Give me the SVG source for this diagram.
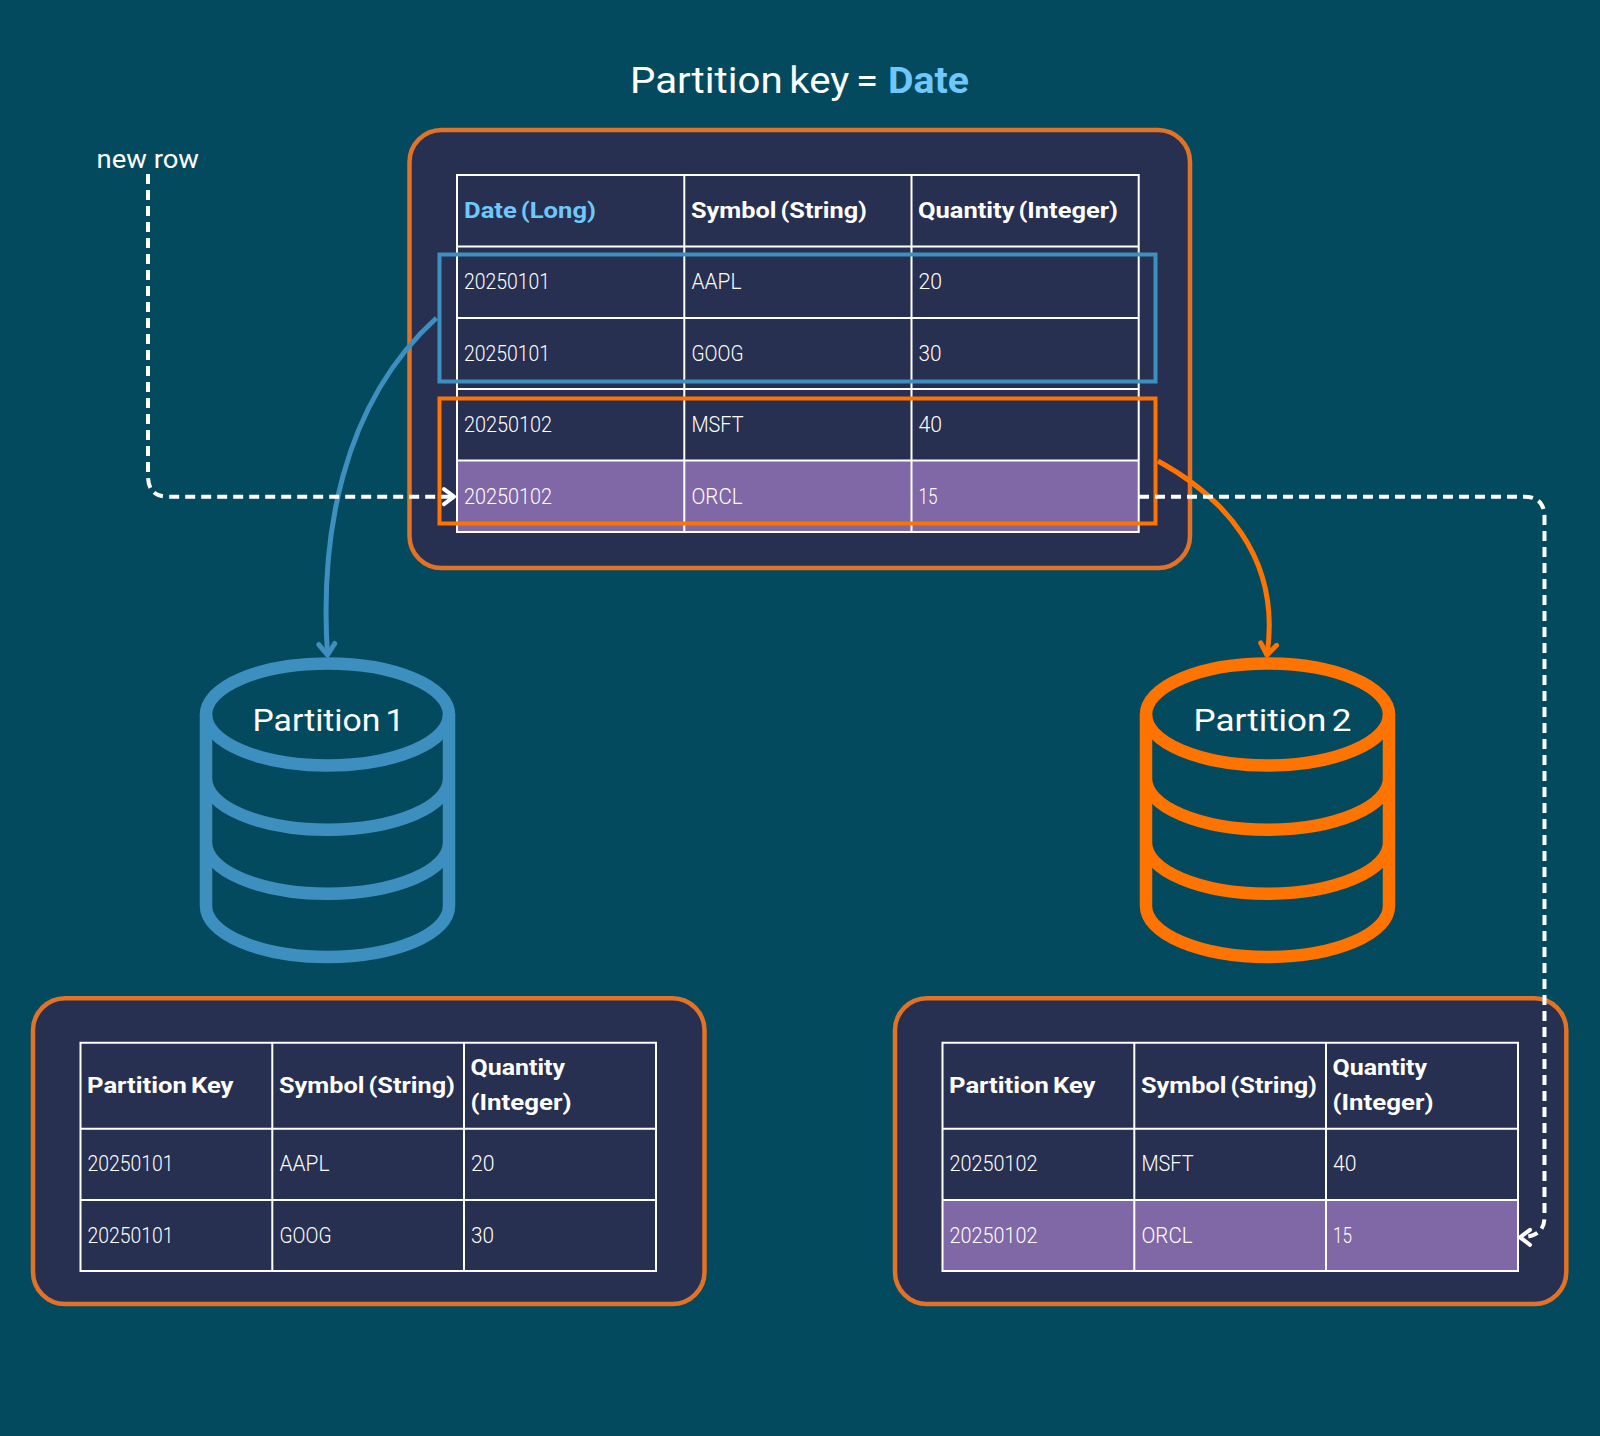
<svg xmlns="http://www.w3.org/2000/svg" width="1600" height="1436" viewBox="0 0 1600 1436">
<style>
text{font-family:"Roboto","Liberation Sans",sans-serif;fill:#fff}
.d{font-size:22px;font-weight:300}
.h{font-size:22px;font-weight:700;word-spacing:-2px}
.acc{fill:#6FC8FB}
.card{fill:#283052;stroke:#E27225;stroke-width:4.5}
.grid{fill:none;stroke:#fff;stroke-width:2}
.row{fill:#8067A5}
.sel{fill:none;stroke-width:4}
.cyl{fill:none;stroke-width:12.5}
.blue{stroke:#3D8FBF}
.orange{stroke:#FF7300}
.flow{fill:none;stroke-width:5}
.dash{fill:none;stroke:#fff;stroke-width:4;stroke-dasharray:10 6}
.label{font-size:32px;font-weight:400;word-spacing:-3px}
</style>
<defs>
<marker id="aw" markerUnits="userSpaceOnUse" markerWidth="30" markerHeight="30" refX="15" refY="15" orient="auto" overflow="visible"><path d="M5,7.5 L15,15 L5,22.5" fill="none" stroke="#fff" stroke-width="4" stroke-linecap="round" stroke-linejoin="round"/></marker>
<marker id="ab" markerUnits="userSpaceOnUse" markerWidth="30" markerHeight="30" refX="15" refY="15" orient="auto" overflow="visible"><path d="M4,7 L15,15 L4,23" fill="none" stroke="#3D8FBF" stroke-width="5" stroke-linecap="round" stroke-linejoin="round"/></marker>
<marker id="ao" markerUnits="userSpaceOnUse" markerWidth="30" markerHeight="30" refX="15" refY="15" orient="auto" overflow="visible"><path d="M4,7 L15,15 L4,23" fill="none" stroke="#FF7300" stroke-width="5" stroke-linecap="round" stroke-linejoin="round"/></marker>
</defs>
<rect width="1600" height="1436" fill="#034A5E"/>

<g id="title">
<text x="630" y="93" font-size="36" word-spacing="-3" textLength="248" lengthAdjust="spacingAndGlyphs">Partition key =</text>
<text class="acc" x="888" y="93" font-size="36" font-weight="700" textLength="81" lengthAdjust="spacingAndGlyphs">Date</text>
</g>
<g id="new-row"><text x="96.5" y="167.5" font-size="26" textLength="102.5" lengthAdjust="spacingAndGlyphs">new row</text></g>

<g id="source-table">
<rect class="card" x="409.5" y="130" width="780.5" height="438" rx="32"/>
<rect class="row" x="457" y="460.5" width="681.7" height="71.5"/>
<path class="grid" d="M457,175H1138.7V532H457ZM684.3,175V532M911.5,175V532M457,246.5H1138.7M457,318H1138.7M457,389H1138.7M457,460.5H1138.7"/>
<text class="h acc" x="464" y="217.5" textLength="132" lengthAdjust="spacingAndGlyphs">Date (Long)</text>
<text class="h" x="691" y="217.5" textLength="176" lengthAdjust="spacingAndGlyphs">Symbol (String)</text>
<text class="h" x="918" y="217.5" textLength="200" lengthAdjust="spacingAndGlyphs">Quantity (Integer)</text>
<text class="d" x="464" y="288.8" textLength="86" lengthAdjust="spacingAndGlyphs">20250101</text>
<text class="d" x="691.5" y="288.8" textLength="50" lengthAdjust="spacingAndGlyphs">AAPL</text>
<text class="d" x="918.5" y="288.8" textLength="23.5" lengthAdjust="spacingAndGlyphs">20</text>
<text class="d" x="464" y="361" textLength="86" lengthAdjust="spacingAndGlyphs">20250101</text>
<text class="d" x="691.5" y="361" textLength="52" lengthAdjust="spacingAndGlyphs">GOOG</text>
<text class="d" x="918.5" y="361" textLength="23" lengthAdjust="spacingAndGlyphs">30</text>
<text class="d" x="464" y="431.8" textLength="88" lengthAdjust="spacingAndGlyphs">20250102</text>
<text class="d" x="691.5" y="431.8" textLength="52" lengthAdjust="spacingAndGlyphs">MSFT</text>
<text class="d" x="918.5" y="431.8" textLength="23.5" lengthAdjust="spacingAndGlyphs">40</text>
<text class="d" x="464" y="504" textLength="88" lengthAdjust="spacingAndGlyphs">20250102</text>
<text class="d" x="691.5" y="504" textLength="51" lengthAdjust="spacingAndGlyphs">ORCL</text>
<text class="d" x="918.5" y="504" textLength="19" lengthAdjust="spacingAndGlyphs">15</text>
<rect class="sel blue" x="439.5" y="254.5" width="716" height="127"/>
<rect class="sel orange" x="439.5" y="398.5" width="716" height="125"/>
</g>

<g id="partition-1">
<path class="cyl blue" d="M206,714.5V906A121.5,51 0 0 0 449,906V714.5M206,842.7A121.5,51 0 0 0 449,842.7M206,778.7A121.5,51 0 0 0 449,778.7"/>
<ellipse class="cyl blue" cx="327.5" cy="714.5" rx="121.5" ry="51"/>
<text class="label" x="252.5" y="731" textLength="152" lengthAdjust="spacingAndGlyphs">Partition 1</text>
</g>
<g id="partition-2">
<path class="cyl orange" d="M1146,714.5V906A121.5,51 0 0 0 1389,906V714.5M1146,842.7A121.5,51 0 0 0 1389,842.7M1146,778.7A121.5,51 0 0 0 1389,778.7"/>
<ellipse class="cyl orange" cx="1267.5" cy="714.5" rx="121.5" ry="51"/>
<text class="label" x="1193.5" y="731" textLength="158" lengthAdjust="spacingAndGlyphs">Partition 2</text>
</g>

<g id="table-1">
<rect class="card" x="33" y="998.3" width="671.5" height="305.7" rx="32"/>
<path class="grid" d="M80.5,1042.7H656V1271H80.5ZM272.3,1042.7V1271M464,1042.7V1271M80.5,1128.7H656M80.5,1200H656"/>
<text class="h" x="87" y="1092.5" textLength="146.5" lengthAdjust="spacingAndGlyphs">Partition Key</text>
<text class="h" x="279" y="1092.5" textLength="176" lengthAdjust="spacingAndGlyphs">Symbol (String)</text>
<text class="h" x="470.5" y="1075" textLength="94.5" lengthAdjust="spacingAndGlyphs">Quantity</text>
<text class="h" x="470.5" y="1110" textLength="101" lengthAdjust="spacingAndGlyphs">(Integer)</text>
<text class="d" x="87.5" y="1171" textLength="86" lengthAdjust="spacingAndGlyphs">20250101</text>
<text class="d" x="279.5" y="1171" textLength="50" lengthAdjust="spacingAndGlyphs">AAPL</text>
<text class="d" x="471" y="1171" textLength="23.5" lengthAdjust="spacingAndGlyphs">20</text>
<text class="d" x="87.5" y="1243" textLength="86" lengthAdjust="spacingAndGlyphs">20250101</text>
<text class="d" x="279.5" y="1243" textLength="52" lengthAdjust="spacingAndGlyphs">GOOG</text>
<text class="d" x="471" y="1243" textLength="23" lengthAdjust="spacingAndGlyphs">30</text>
</g>

<g id="table-2">
<rect class="card" x="895" y="998.3" width="671.3" height="305.7" rx="32"/>
<rect class="row" x="942.5" y="1200" width="575.5" height="71"/>
<path class="grid" d="M942.5,1042.7H1518V1271H942.5ZM1134.3,1042.7V1271M1326,1042.7V1271M942.5,1128.7H1518M942.5,1200H1518"/>
<text class="h" x="949" y="1092.5" textLength="146.5" lengthAdjust="spacingAndGlyphs">Partition Key</text>
<text class="h" x="1141" y="1092.5" textLength="176" lengthAdjust="spacingAndGlyphs">Symbol (String)</text>
<text class="h" x="1332.5" y="1075" textLength="94.5" lengthAdjust="spacingAndGlyphs">Quantity</text>
<text class="h" x="1332.5" y="1110" textLength="101" lengthAdjust="spacingAndGlyphs">(Integer)</text>
<text class="d" x="949.5" y="1171" textLength="88" lengthAdjust="spacingAndGlyphs">20250102</text>
<text class="d" x="1141.5" y="1171" textLength="52" lengthAdjust="spacingAndGlyphs">MSFT</text>
<text class="d" x="1333" y="1171" textLength="23.5" lengthAdjust="spacingAndGlyphs">40</text>
<text class="d" x="949.5" y="1243" textLength="88" lengthAdjust="spacingAndGlyphs">20250102</text>
<text class="d" x="1141.5" y="1243" textLength="51" lengthAdjust="spacingAndGlyphs">ORCL</text>
<text class="d" x="1333" y="1243" textLength="19" lengthAdjust="spacingAndGlyphs">15</text>
</g>

<g id="connectors">
<path class="flow blue" d="M436.5,318C340,405 320,540 327.5,655" marker-end="url(#ab)"/>
<path class="flow orange" d="M1158,461C1220,495 1282,555 1267,655" marker-end="url(#ao)"/>
<path class="dash" d="M148,174V476Q148,496.7 168,496.7H454" marker-end="url(#aw)"/>
<path class="dash" d="M1139,496.7H1524Q1544.5,496.7 1544.5,517V1217Q1544.5,1237.3 1520,1237.3" marker-end="url(#aw)"/>
</g>
</svg>
